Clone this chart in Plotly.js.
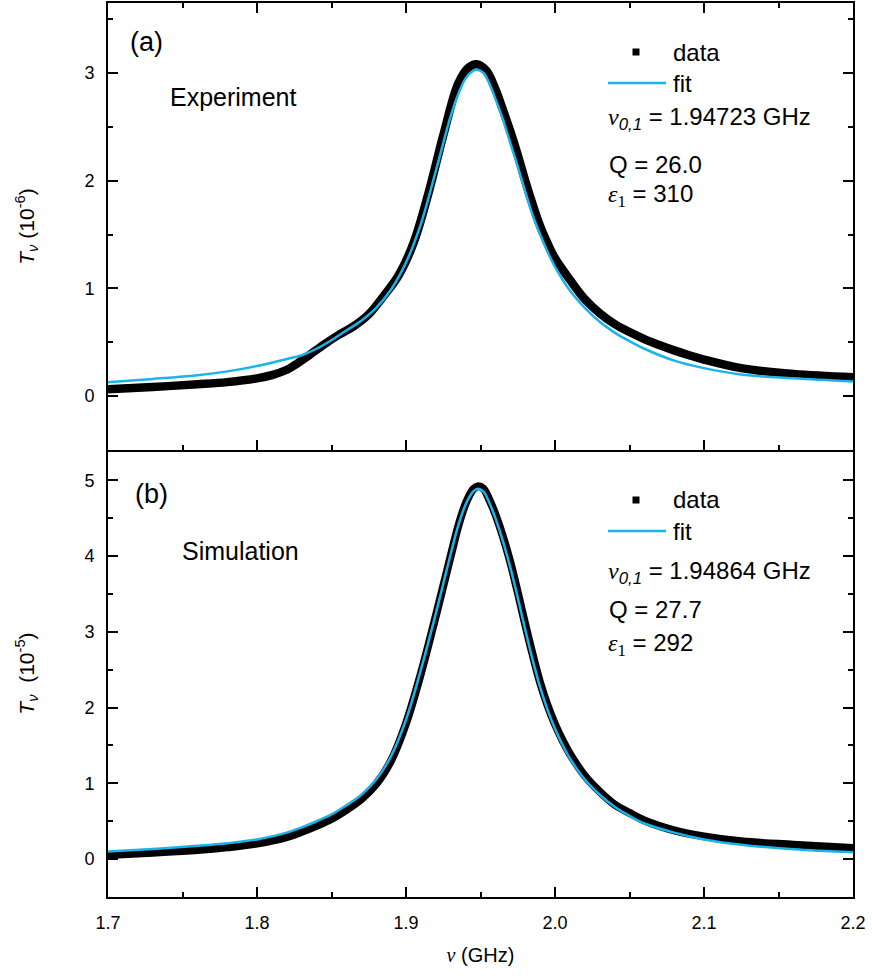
<!DOCTYPE html>
<html>
<head>
<meta charset="utf-8">
<script src="https://cdn.plot.ly/plotly-3.0.1.min.js"></script>
<style>html,body{margin:0;padding:0;background:#fff;}</style>
</head>
<body>
<div id="chart" style="width:872px;height:976px;"></div>
<script>
// ---- Panel (a): experiment ----
const xA_data = [1.70, 1.73, 1.76, 1.78, 1.80, 1.81, 1.82, 1.825, 1.835, 1.845, 1.855, 1.865, 1.875, 1.885, 1.895, 1.905, 1.915, 1.925, 1.935, 1.942, 1.948, 1.954, 1.96, 1.965, 1.97, 1.975, 1.98, 1.985, 1.99, 1.995, 2.00, 2.01, 2.02, 2.03, 2.04, 2.05, 2.06, 2.07, 2.08, 2.09, 2.10, 2.125, 2.16, 2.20];
const yA_data = [0.065, 0.085, 0.11, 0.13, 0.165, 0.195, 0.245, 0.285, 0.38, 0.48, 0.57, 0.65, 0.76, 0.93, 1.12, 1.42, 1.88, 2.42, 2.90, 3.05, 3.08, 3.02, 2.85, 2.66, 2.46, 2.24, 2.00, 1.78, 1.58, 1.42, 1.28, 1.08, 0.90, 0.77, 0.67, 0.595, 0.53, 0.475, 0.425, 0.38, 0.34, 0.26, 0.205, 0.175];
const xA_fit = [1.70, 1.73, 1.76, 1.78, 1.80, 1.82, 1.83, 1.84, 1.85, 1.86, 1.87, 1.88, 1.89, 1.90, 1.91, 1.92, 1.93, 1.935, 1.94, 1.945, 1.948, 1.952, 1.956, 1.96, 1.965, 1.97, 1.975, 1.98, 1.985, 1.99, 1.995, 2.00, 2.01, 2.02, 2.03, 2.04, 2.05, 2.06, 2.08, 2.10, 2.125, 2.16, 2.20];
const yA_fit = [0.13, 0.16, 0.195, 0.23, 0.28, 0.345, 0.38, 0.44, 0.52, 0.61, 0.70, 0.82, 0.99, 1.24, 1.60, 2.09, 2.60, 2.80, 2.95, 3.02, 3.03, 3.00, 2.90, 2.76, 2.57, 2.35, 2.13, 1.90, 1.68, 1.50, 1.34, 1.20, 0.98, 0.82, 0.69, 0.59, 0.51, 0.44, 0.33, 0.26, 0.20, 0.165, 0.135];

// ---- Panel (b): simulation ----
const xB_data = [1.70, 1.73, 1.76, 1.78, 1.80, 1.82, 1.83, 1.84, 1.85, 1.86, 1.87, 1.88, 1.89, 1.90, 1.91, 1.92, 1.93, 1.935, 1.94, 1.945, 1.948, 1.952, 1.956, 1.96, 1.965, 1.97, 1.975, 1.98, 1.985, 1.99, 1.995, 2.00, 2.005, 2.01, 2.02, 2.03, 2.04, 2.05, 2.06, 2.08, 2.10, 2.125, 2.16, 2.20];
const yB_data = [0.055, 0.085, 0.12, 0.155, 0.205, 0.29, 0.36, 0.44, 0.53, 0.65, 0.79, 0.99, 1.30, 1.79, 2.45, 3.21, 4.00, 4.39, 4.69, 4.88, 4.92, 4.89, 4.74, 4.55, 4.26, 3.92, 3.52, 3.10, 2.70, 2.33, 2.03, 1.78, 1.57, 1.39, 1.10, 0.89, 0.72, 0.61, 0.51, 0.38, 0.30, 0.235, 0.19, 0.145];
const xB_fit = [1.70, 1.73, 1.76, 1.78, 1.80, 1.82, 1.83, 1.84, 1.85, 1.86, 1.87, 1.88, 1.89, 1.90, 1.91, 1.92, 1.93, 1.935, 1.94, 1.945, 1.948, 1.952, 1.956, 1.96, 1.965, 1.97, 1.975, 1.98, 1.985, 1.99, 1.995, 2.00, 2.005, 2.01, 2.02, 2.03, 2.04, 2.05, 2.06, 2.08, 2.10, 2.125, 2.16, 2.20];
const yB_fit = [0.10, 0.135, 0.176, 0.21, 0.26, 0.35, 0.42, 0.50, 0.59, 0.71, 0.85, 1.05, 1.36, 1.84, 2.50, 3.24, 4.03, 4.40, 4.68, 4.85, 4.89, 4.85, 4.70, 4.50, 4.20, 3.85, 3.45, 3.03, 2.63, 2.27, 1.97, 1.72, 1.51, 1.33, 1.05, 0.85, 0.69, 0.57, 0.47, 0.35, 0.26, 0.19, 0.13, 0.09];

// ---- Text ----
const panelLabels = ["(a)", "(b)"];
const panelNames = ["Experiment", "Simulation"];
const legendNames = ["data", "fit"];
const nuText = ["1.94723 GHz", "1.94864 GHz"];
const qText = ["26.0", "27.7"];
const epsText = ["310", "292"];
const xTickVals = [1.7, 1.8, 1.9, 2.0, 2.1, 2.2];

const W = 872, H = 976, ML = 108, MR = 19, MT = 3, MB = 79;
const PW = W - ML - MR, PH = H - MT - MB;
const px = v => (v - ML) / PW;
const py = v => (H - MB - v) / PH;

const BLACK = '#000000';
const CYAN = '#1AB4EC';
const FONT = '"Liberation Sans", Arial, sans-serif';
const SERIF = 'Liberation Serif';

const traces = [
  {x: xA_data, y: yA_data, xaxis: 'x', yaxis: 'y', mode: 'lines', line: {color: BLACK, width: 8.5, shape: 'spline', smoothing: 1}, hoverinfo: 'skip'},
  {x: xA_fit, y: yA_fit, xaxis: 'x', yaxis: 'y', mode: 'lines', line: {color: CYAN, width: 2.5, shape: 'spline', smoothing: 1}, hoverinfo: 'skip'},
  {x: xB_data, y: yB_data, xaxis: 'x2', yaxis: 'y2', mode: 'lines', line: {color: BLACK, width: 8, shape: 'spline', smoothing: 1}, hoverinfo: 'skip'},
  {x: xB_fit, y: yB_fit, xaxis: 'x2', yaxis: 'y2', mode: 'lines', line: {color: CYAN, width: 2.5, shape: 'spline', smoothing: 1}, hoverinfo: 'skip'}
];

const axCommon = {
  showline: true, linewidth: 2, linecolor: BLACK,
  ticks: 'inside', ticklen: 10, tickwidth: 2, tickcolor: BLACK,
  showgrid: false, zeroline: false,
  tickfont: {family: FONT, size: 18, color: BLACK}
};

const layout = {
  width: W, height: H,
  margin: {l: ML, r: MR, t: MT, b: MB},
  paper_bgcolor: '#fff', plot_bgcolor: '#fff',
  showlegend: false,
  font: {family: FONT, color: BLACK},
  xaxis: Object.assign({}, axCommon, {
    domain: [0, 1], anchor: 'y', range: [1.7, 2.2], tickvals: xTickVals,
    mirror: 'ticks', showticklabels: false, matches: 'x2',
    minor: {dtick: 0.05, tick0: 1.7, ticks: 'inside', ticklen: 5, tickwidth: 2, tickcolor: BLACK, showgrid: false}
  }),
  xaxis2: Object.assign({}, axCommon, {
    domain: [0, 1], anchor: 'y2', range: [1.7, 2.2], tickvals: xTickVals, tickformat: '.1f',
    mirror: false, ticklabelstandoff: 8,
    minor: {dtick: 0.05, tick0: 1.7, ticks: 'inside', ticklen: 5, tickwidth: 2, tickcolor: BLACK, showgrid: false},
    title: {text: '<span style="font-family:' + SERIF + '"><i>ν</i></span> (GHz)', font: {family: FONT, size: 20, color: BLACK}, standoff: 16}
  }),
  yaxis: Object.assign({}, axCommon, {
    domain: [0.5, 1], anchor: 'x', range: [-0.5, 3.65], dtick: 1, tick0: 0,
    mirror: 'ticks', ticklabelstandoff: 8,
    minor: {dtick: 0.5, ticks: 'inside', ticklen: 5, tickwidth: 2, tickcolor: BLACK, showgrid: false},
    title: {text: '<i>T</i><sub><i>ν</i></sub> (10<sup>-6</sup>)', font: {family: FONT, size: 21, color: BLACK}, standoff: 44}
  }),
  yaxis2: Object.assign({}, axCommon, {
    domain: [0, 0.5], anchor: 'x2', range: [-0.5, 5.4], dtick: 1, tick0: 0,
    mirror: 'ticks', ticklabelstandoff: 8,
    minor: {dtick: 0.5, ticks: 'inside', ticklen: 5, tickwidth: 2, tickcolor: BLACK, showgrid: false},
    title: {text: '<i>T</i><sub><i>ν</i></sub>  (10<sup>-5</sup>)', font: {family: FONT, size: 21, color: BLACK}, standoff: 44}
  }),
  annotations: [],
  shapes: []
};

function ann(text, xpix, ypix, size) {
  layout.annotations.push({
    text: text, xref: 'paper', yref: 'paper', x: px(xpix), y: py(ypix),
    xanchor: 'left', yanchor: 'middle', showarrow: false,
    font: {family: FONT, size: size, color: BLACK}
  });
}

// panel-specific text positions (pixels)
const pos = [
  {lab: [128, 42], name: [168, 97], data: 52, fit: 83, nu: 119, q: 164, eps: 195},
  {lab: [133, 494], name: [180, 551], data: 500, fit: 531, nu: 572, q: 609, eps: 644}
];

for (let i = 0; i < 2; i++) {
  const p = pos[i];
  ann(panelLabels[i], p.lab[0], p.lab[1], 27);
  ann(panelNames[i], p.name[0], p.name[1], 25);
  ann(legendNames[0], 671, p.data, 24);
  ann(legendNames[1], 671, p.fit, 24);
  ann('<span style="font-family:' + SERIF + '"><i>ν</i></span><sub><i>0,1</i></sub> = ' + nuText[i], 606, p.nu, 24);
  ann('Q = ' + qText[i], 607, p.q, 24);
  ann('<span style="font-family:' + SERIF + '"><i>ε</i><sub>1</sub></span> = ' + epsText[i], 606, p.eps, 24);
  // legend symbols
  layout.shapes.push({type: 'rect', xref: 'paper', yref: 'paper',
    x0: px(632.5), x1: px(639.5), y0: py(p.data + 3.5), y1: py(p.data - 3.5),
    fillcolor: BLACK, line: {width: 0}});
  layout.shapes.push({type: 'line', xref: 'paper', yref: 'paper',
    x0: px(608), x1: px(666), y0: py(p.fit), y1: py(p.fit),
    line: {color: CYAN, width: 2.5}});
}

Plotly.newPlot('chart', traces, layout, {staticPlot: true, displayModeBar: false});
</script>
</body>
</html>
